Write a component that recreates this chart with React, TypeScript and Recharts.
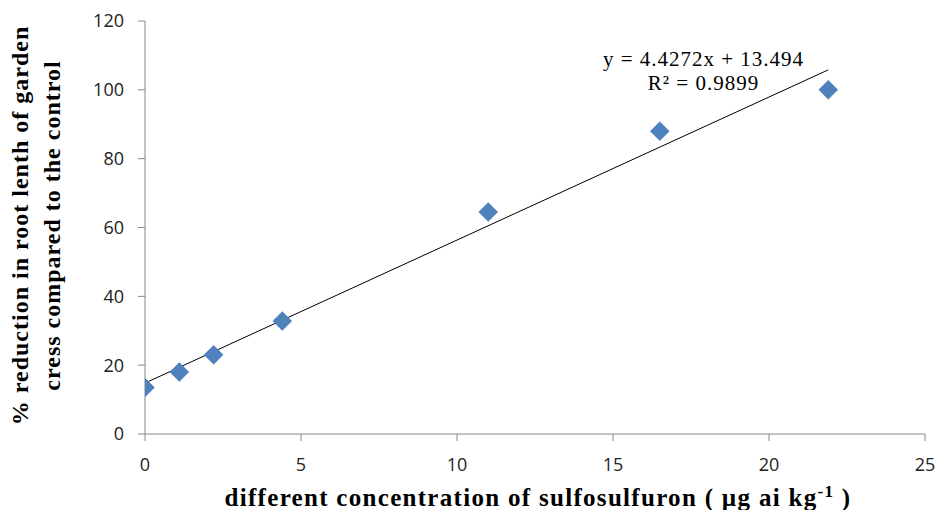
import React from "react";
import {
  ScatterChart,
  Scatter,
  XAxis,
  YAxis,
  ReferenceDot,
} from "recharts";

const concentrations = [0, 1.1, 2.2, 4.4, 11, 16.5, 21.9];
const reductions = [13.5, 18.0, 23.0, 32.8, 64.5, 88.0, 100.0];
const trendX = [0, 21.9];
const trendY = [14.8, 105.8];
const xTicks = [0, 5, 10, 15, 20, 25];
const yTicks = [0, 20, 40, 60, 80, 100, 120];
const equationText = "y = 4.4272x + 13.494";
const r2Text = "R² = 0.9899";

const points = concentrations.map((x, i) => ({ x, y: reductions[i] }));
const trend = trendX.map((x, i) => ({ x, y: trendY[i] }));

const Diamond = (props: any) => {
  const { cx, cy } = props;
  if (cx == null || cy == null) return null;
  const r = 9.5;
  return (
    <polygon
      points={`${cx},${cy - r} ${cx + r},${cy} ${cx},${cy + r} ${cx - r},${cy}`}
      fill="#4F81BD"
      stroke="#4A7EBB"
      strokeWidth={0.5}
    />
  );
};

const NoShape = () => null;

const YTitle = (props: any) => {
  const vb = props.viewBox || { x: 0, y: 0, width: 0, height: 0 };
  const cy = vb.y + vb.height / 2 - 2;
  const x1 = vb.x + 28;
  const x2 = vb.x + 60;
  const style = {
    fontFamily: "'Liberation Serif', 'Times New Roman', serif",
    fontWeight: 700,
    fontSize: 24,
    letterSpacing: 1,
    fill: "#000",
  } as any;
  return (
    <g>
      <text x={x1} y={cy} transform={`rotate(-90 ${x1} ${cy})`} textAnchor="middle" style={style}>
        % reduction in root lenth of garden
      </text>
      <text x={x2} y={cy} transform={`rotate(-90 ${x2} ${cy})`} textAnchor="middle" style={style}>
        cress compared to the control
      </text>
    </g>
  );
};

const XTitle = (props: any) => {
  const vb = props.viewBox || { x: 0, y: 0, width: 0, height: 0 };
  const cx = vb.x + vb.width / 2 + 3;
  const y = vb.y + 72;
  return (
    <text
      x={cx}
      y={y}
      textAnchor="middle"
      style={{
        fontFamily: "'Liberation Serif', 'Times New Roman', serif",
        fontWeight: 700,
        fontSize: 25,
        letterSpacing: 1.3,
        fill: "#000",
      }}
    >
      different concentration of sulfosulfuron ( µg ai kg
      <tspan dy={-9} fontSize={17}>-1</tspan>
      <tspan dy={9}> )</tspan>
    </text>
  );
};

const Equation = (props: any) => {
  const { cx, cy } = props;
  if (cx == null || cy == null) return null;
  const style = {
    fontFamily: "'Liberation Serif', 'Times New Roman', serif",
    fontSize: 21,
    letterSpacing: 1,
    fill: "#000",
  } as any;
  return (
    <g>
      <text x={cx} y={cy} textAnchor="middle" style={style}>
        {equationText}
      </text>
      <text x={cx} y={cy + 24} textAnchor="middle" style={style}>
        {r2Text}
      </text>
    </g>
  );
};

const tickStyle = {
  fontFamily: "'Open Sans', 'Noto Sans', sans-serif",
  fontSize: 18,
  fill: "#222",
};

export default function App() {
  return (
    <div style={{ position: "absolute", left: 0, top: 0, width: 936, height: 510, background: "#fff" }}>
      <ScatterChart
        width={936}
        height={510}
        margin={{ top: 21, right: 11, left: 0, bottom: 0 }}
      >
        <XAxis
          type="number"
          dataKey="x"
          domain={[0, 25]}
          ticks={xTicks}
          interval={0}
          allowDataOverflow
          height={76}
          stroke="#868686"
          tickSize={7}
          tickMargin={17}
          tick={tickStyle}
          tickLine={{ stroke: "#868686" }}
          label={{ content: XTitle } as any}
        />
        <YAxis
          type="number"
          dataKey="y"
          domain={[0, 120]}
          ticks={yTicks}
          interval={0}
          allowDataOverflow
          width={145}
          stroke="#868686"
          tickSize={7}
          tickMargin={14}
          tick={tickStyle}
          tickLine={{ stroke: "#868686" }}
          label={{ content: YTitle } as any}
        />
        <Scatter
          data={trend}
          line={{ stroke: "#000", strokeWidth: 1 }}
          shape={NoShape as any}
          isAnimationActive={false}
        />
        <Scatter
          data={points}
          shape={Diamond as any}
          isAnimationActive={false}
        />
        <ReferenceDot x={17.9} y={106.9} r={0} shape={Equation as any} />
      </ScatterChart>
    </div>
  );
}
